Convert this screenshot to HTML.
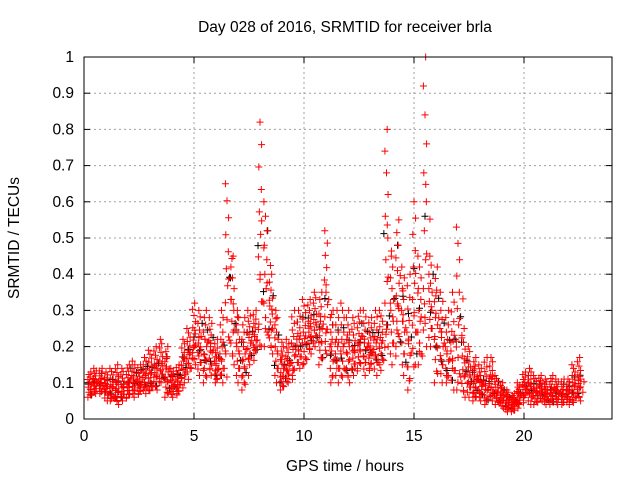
<!DOCTYPE html>
<html><head><meta charset="utf-8"><style>
body{margin:0;background:#fff;width:640px;height:480px;overflow:hidden}
text{font-family:"Liberation Sans",sans-serif;font-size:15.5px;fill:#000}
</style></head><body>
<svg id="chart" width="640" height="480" viewBox="0 0 640 480">
<rect width="640" height="480" fill="#fff"/>
<g id="grid"></g>
<g id="ticks"></g>
<g id="marks"></g>
<rect x="84" y="57" width="528" height="362" fill="none" stroke="#000" stroke-width="1"/>
<text x="345" y="32" text-anchor="middle">Day 028 of 2016, SRMTID for receiver brla</text>
<text x="345" y="471" text-anchor="middle">GPS time / hours</text>
<text x="0" y="0" text-anchor="middle" transform="translate(19,238) rotate(-90)">SRMTID / TECUs</text>
</svg>
<script>
const xTicks=[0,5,10,15,20];
const yTicks=[0,0.1,0.2,0.3,0.4,0.5,0.6,0.7,0.8,0.9,1];
const yTickLabels=["0","0.1","0.2","0.3","0.4","0.5","0.6","0.7","0.8","0.9","1"];
const times=[0.25,0.5,0.75,1,1.25,1.5,1.75,2,2.25,2.5,2.75,3,3.25,3.5,3.75,4,4.25,4.5,4.75,5,5.25,5.5,5.75,6,6.25,6.5,6.75,7,7.25,7.5,7.75,8,8.25,8.5,8.75,9,9.25,9.5,9.75,10,10.25,10.5,10.75,11,11.25,11.5,11.75,12,12.25,12.5,12.75,13,13.25,13.5,13.75,14,14.25,14.5,14.75,15,15.25,15.5,15.75,16,16.25,16.5,16.75,17,17.25,17.5,17.75,18,18.25,18.5,18.75,19,19.25,19.5,19.75,20,20.25,20.5,20.75,21,21.25,21.5,21.75,22,22.25,22.5];
const hiVals=[0.13,0.14,0.14,0.13,0.14,0.15,0.14,0.15,0.16,0.15,0.17,0.19,0.2,0.22,0.2,0.14,0.15,0.22,0.25,0.32,0.3,0.3,0.28,0.22,0.3,0.65,0.45,0.3,0.28,0.3,0.3,0.82,0.6,0.4,0.3,0.2,0.22,0.3,0.3,0.33,0.33,0.35,0.35,0.52,0.3,0.3,0.32,0.3,0.28,0.3,0.3,0.28,0.3,0.3,0.8,0.45,0.55,0.42,0.4,0.6,0.45,1.0,0.45,0.42,0.35,0.3,0.35,0.53,0.25,0.2,0.17,0.15,0.17,0.17,0.12,0.1,0.08,0.07,0.1,0.13,0.14,0.12,0.12,0.11,0.12,0.11,0.11,0.11,0.15,0.17];
const loVals=[0.06,0.07,0.07,0.05,0.05,0.04,0.05,0.06,0.06,0.07,0.07,0.08,0.08,0.1,0.06,0.06,0.07,0.1,0.13,0.15,0.12,0.1,0.12,0.1,0.1,0.18,0.15,0.1,0.08,0.15,0.18,0.2,0.2,0.18,0.1,0.08,0.1,0.12,0.14,0.15,0.18,0.2,0.15,0.18,0.1,0.1,0.12,0.1,0.12,0.14,0.12,0.14,0.12,0.15,0.2,0.15,0.2,0.12,0.08,0.15,0.15,0.2,0.2,0.1,0.1,0.1,0.08,0.08,0.06,0.06,0.05,0.05,0.04,0.05,0.04,0.03,0.02,0.02,0.04,0.06,0.04,0.04,0.05,0.04,0.04,0.04,0.04,0.04,0.05,0.05];
const X0=84,X1=612,Y0=419,Y1=57,XMAX=24;
const xs=v=>X0+v/XMAX*(X1-X0);
const ys=v=>Y0-v*(Y0-Y1);
const NS="http://www.w3.org/2000/svg";
const grid=document.getElementById('grid'),tk=document.getElementById('ticks'),mk=document.getElementById('marks');
function mkEl(t,a,p){const e=document.createElementNS(NS,t);for(const k in a)e.setAttribute(k,a[k]);p.appendChild(e);return e;}
yTicks.forEach((v,i)=>{const y=ys(v);
 if(i>0&&i<yTicks.length-1){const g=mkEl('line',{x1:X0,x2:X1,y1:y,y2:y,stroke:'#a0a0a0','stroke-dasharray':'2,3'},grid);
 
 }
 mkEl('line',{x1:X0,x2:X0+6,y1:y,y2:y,stroke:'#000'},tk);
 mkEl('line',{x1:X1,x2:X1-6,y1:y,y2:y,stroke:'#000'},tk);
 const t=mkEl('text',{x:X0-10,y:y+5,'text-anchor':'end'},tk);t.textContent=yTickLabels[i];
 
 });
xTicks.forEach(v=>{const x=xs(v);
 if(v>0){const g=mkEl('line',{x1:x,x2:x,y1:Y0,y2:Y1,stroke:'#a0a0a0','stroke-dasharray':'2,3'},grid);
 
 }
 mkEl('line',{x1:x,x2:x,y1:Y0,y2:Y0-6,stroke:'#000'},tk);
 mkEl('line',{x1:x,x2:x,y1:Y1,y2:Y1+6,stroke:'#000'},tk);
 const t=mkEl('text',{x:x,y:Y0+22,'text-anchor':'middle'},tk);t.textContent=String(v);
 
 });
const fr=[0,0.1,0.2,0.3,0.4,0.5,0.6,0.7,0.8,0.9,1];
const dx=[-0.12,0.05,-0.05,0.1,-0.09,0.12,0.0];
let d='',dk='';
times.forEach((t,i)=>{const lo=loVals[i],hi=hiVals[i];
 fr.forEach((f,j)=>{const x=xs(t+dx[(i+j)%dx.length]*0.6),y=ys(lo+(hi-lo)*f);
  d+=`M${x-3.5},${y}h7M${x},${y-3.5}v7`;
  if((i+j)%6===0){const xb=xs(t+dx[(i+j+3)%dx.length]),yb=ys(lo+(hi-lo)*(f*0.7+0.1));dk+=`M${xb-3.5},${yb}h7M${xb},${yb-3.5}v7`;}
 });
 for(let k=0;k<5;k++){const f=0.1+0.15*k;const x=xs(t+0.125+dx[(i+k+2)%dx.length]);const y=ys(lo+(hi-lo)*f*0.8);d+=`M${x-3.5},${y}h7M${x},${y-3.5}v7`;}
});
const pb=mkEl('path',{d:dk,stroke:'#000',fill:'none','stroke-width':1},mk);


const pr=mkEl('path',{d:d,stroke:'#ff0000',fill:'none','stroke-width':1},mk);


</script>
</body></html>
